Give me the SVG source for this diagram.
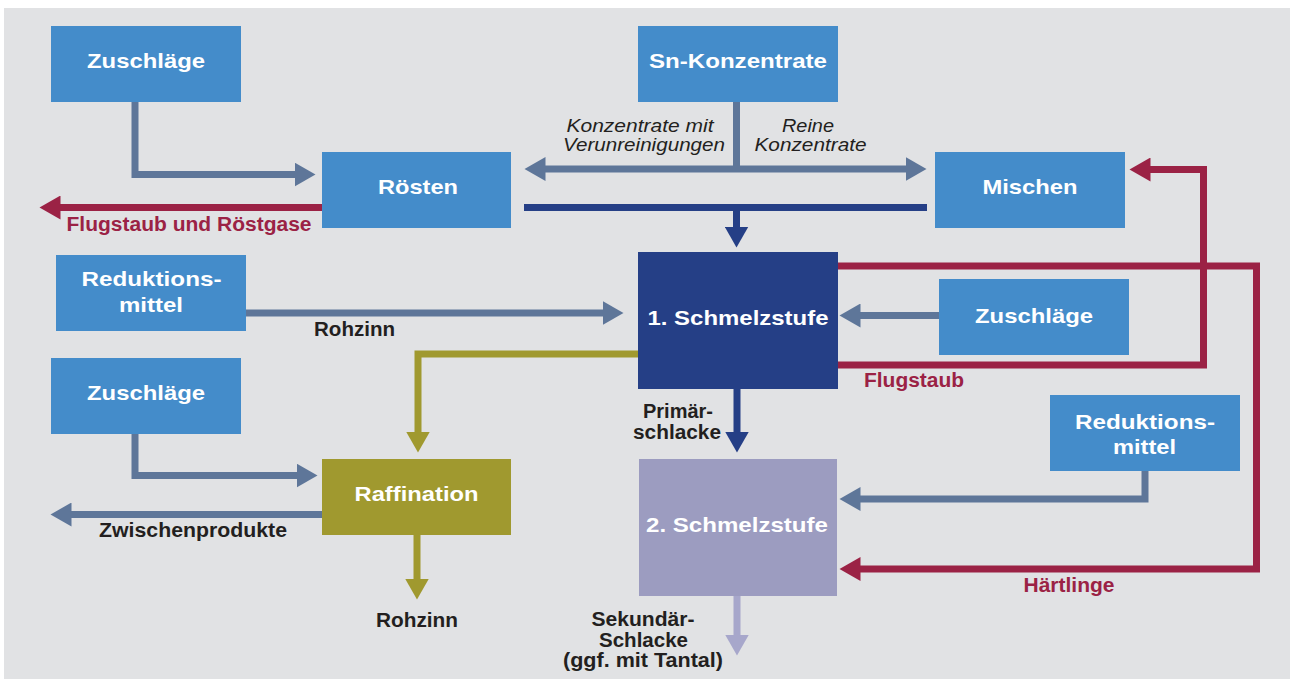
<svg xmlns="http://www.w3.org/2000/svg" width="1290" height="679" viewBox="0 0 1290 679">
<style>
.box{fill:#448CCA}
.lbl{font-family:"Liberation Sans",Arial,sans-serif;font-weight:bold;font-size:21px;fill:#FFFFFF;text-anchor:middle}
.dk{font-family:"Liberation Sans",Arial,sans-serif;font-weight:bold;font-size:20px;fill:#231F20;text-anchor:middle}
.rd{font-family:"Liberation Sans",Arial,sans-serif;font-weight:bold;font-size:20px;fill:#9B2245;text-anchor:middle}
.it{font-family:"Liberation Sans",Arial,sans-serif;font-style:italic;font-size:18.5px;fill:#231F20}
.c{fill:none;stroke-width:7;stroke-linejoin:miter;stroke-linecap:butt}
.gb{stroke:#5E7699}
.nv{stroke:#253F86}
.ol{stroke:#A0992F}
.rr{stroke:#9B2245}
.lv{stroke:#A7A7CB}
</style>
<defs>
<marker id="hg" markerUnits="userSpaceOnUse" markerWidth="22" markerHeight="24" viewBox="0 0 22 24" refX="0.5" refY="12" orient="auto-start-reverse"><path d="M0,0 L21,12 L0,24 z" fill="#5E7699"/></marker>
<marker id="hn" markerUnits="userSpaceOnUse" markerWidth="22" markerHeight="24" viewBox="0 0 22 24" refX="0.5" refY="12" orient="auto"><path d="M0,0 L21,12 L0,24 z" fill="#253F86"/></marker>
<marker id="ho" markerUnits="userSpaceOnUse" markerWidth="22" markerHeight="24" viewBox="0 0 22 24" refX="0.5" refY="12" orient="auto"><path d="M0,0 L21,12 L0,24 z" fill="#A0992F"/></marker>
<marker id="hr" markerUnits="userSpaceOnUse" markerWidth="22" markerHeight="24" viewBox="0 0 22 24" refX="0.5" refY="12" orient="auto"><path d="M0,0 L21,12 L0,24 z" fill="#9B2245"/></marker>
<marker id="hl" markerUnits="userSpaceOnUse" markerWidth="22" markerHeight="24" viewBox="0 0 22 24" refX="0.5" refY="12" orient="auto"><path d="M0,0 L21,12 L0,24 z" fill="#A7A7CB"/></marker>
</defs>
<rect x="0" y="0" width="1290" height="679" fill="#FFFFFF"/>
<rect x="4" y="8" width="1286" height="671" fill="#E1E2E4"/>

<g id="connectors">
<path class="c gb" d="M135,101 V174.5 H295" marker-end="url(#hg)"/>
<path class="c gb" d="M736.5,101 V169"/>
<path class="c gb" d="M545,169 H906" marker-start="url(#hg)" marker-end="url(#hg)"/>
<path class="c gb" d="M245,313 H603" marker-end="url(#hg)"/>
<path class="c gb" d="M939,315.5 H860" marker-end="url(#hg)"/>
<path class="c gb" d="M135,433 V475.5 H297" marker-end="url(#hg)"/>
<path class="c gb" d="M322,514.5 H71" marker-end="url(#hg)"/>
<path class="c gb" d="M1145,470 V499 H860" marker-end="url(#hg)"/>
<path class="c nv" d="M524,207.5 H927" stroke-width="8"/>
<path class="c nv" d="M736.5,211 V227" marker-end="url(#hn)"/>
<path class="c nv" d="M737,388 V432" marker-end="url(#hn)"/>
<path class="c ol" d="M638,354 H418 V432" marker-end="url(#ho)"/>
<path class="c ol" d="M417,534 V579" marker-end="url(#ho)"/>
<path class="c rr" d="M322,207.5 H60" marker-end="url(#hr)"/>
<path class="c rr" d="M838,365 H1203.5 V169.5 H1150" marker-end="url(#hr)"/>
<path class="c rr" d="M838,266 H1256.5 V569 H860" marker-end="url(#hr)"/>
<path class="c lv" d="M737,595 V635" marker-end="url(#hl)"/>
</g>

<g id="zuschlaege1"><rect class="box" x="51" y="26" width="190" height="76"/><text class="lbl" x="146" y="68" textLength="118" lengthAdjust="spacingAndGlyphs">Zuschläge</text></g>
<g id="sn-konzentrate"><rect class="box" x="638" y="26" width="200" height="76"/><text class="lbl" x="738" y="68" textLength="178" lengthAdjust="spacingAndGlyphs">Sn-Konzentrate</text></g>
<g id="roesten"><rect class="box" x="322" y="152" width="189" height="76"/><text class="lbl" x="418" y="194" textLength="80" lengthAdjust="spacingAndGlyphs">Rösten</text></g>
<g id="mischen"><rect class="box" x="935" y="152" width="190" height="76"/><text class="lbl" x="1030" y="194" textLength="95" lengthAdjust="spacingAndGlyphs">Mischen</text></g>
<g id="reduktionsmittel1"><rect class="box" x="56" y="255" width="190" height="76"/><text class="lbl" x="151.5" y="285.5" textLength="140" lengthAdjust="spacingAndGlyphs">Reduktions-</text><text class="lbl" x="151" y="311.5" textLength="64" lengthAdjust="spacingAndGlyphs">mittel</text></g>
<g id="schmelzstufe1"><rect x="638" y="252" width="200" height="137" fill="#253F86"/><text class="lbl" x="738" y="325" textLength="181" lengthAdjust="spacingAndGlyphs">1. Schmelzstufe</text></g>
<g id="zuschlaege2"><rect class="box" x="939" y="279" width="190" height="76"/><text class="lbl" x="1034" y="323" textLength="118" lengthAdjust="spacingAndGlyphs">Zuschläge</text></g>
<g id="zuschlaege3"><rect class="box" x="51" y="358" width="190" height="76"/><text class="lbl" x="146" y="400" textLength="118" lengthAdjust="spacingAndGlyphs">Zuschläge</text></g>
<g id="reduktionsmittel2"><rect class="box" x="1050" y="395" width="190" height="76"/><text class="lbl" x="1145" y="428.5" textLength="140" lengthAdjust="spacingAndGlyphs">Reduktions-</text><text class="lbl" x="1144.5" y="454" textLength="63" lengthAdjust="spacingAndGlyphs">mittel</text></g>
<g id="raffination"><rect x="322" y="459" width="189" height="76" fill="#A0992F"/><text class="lbl" x="416.5" y="500.5" textLength="124" lengthAdjust="spacingAndGlyphs">Raffination</text></g>
<g id="schmelzstufe2"><rect x="639" y="459" width="198" height="137" fill="#9C9CC0"/><text class="lbl" x="737" y="531.5" textLength="182" lengthAdjust="spacingAndGlyphs">2. Schmelzstufe</text></g>

<g id="labels">
<text class="it" x="566.5" y="132" textLength="147" lengthAdjust="spacingAndGlyphs">Konzentrate mit</text>
<text class="it" x="563" y="151" textLength="162" lengthAdjust="spacingAndGlyphs">Verunreinigungen</text>
<text class="it" x="808" y="132" text-anchor="middle" textLength="52" lengthAdjust="spacingAndGlyphs">Reine</text>
<text class="it" x="810.5" y="151" text-anchor="middle" textLength="112" lengthAdjust="spacingAndGlyphs">Konzentrate</text>
<text class="rd" x="189" y="231" textLength="245" lengthAdjust="spacingAndGlyphs">Flugstaub und Röstgase</text>
<text class="dk" x="354.5" y="336" textLength="81" lengthAdjust="spacingAndGlyphs">Rohzinn</text>
<text class="rd" x="914" y="386.7" textLength="100" lengthAdjust="spacingAndGlyphs">Flugstaub</text>
<text class="dk" x="678" y="418" textLength="70" lengthAdjust="spacingAndGlyphs">Primär-</text>
<text class="dk" x="677" y="438.5" textLength="88" lengthAdjust="spacingAndGlyphs">schlacke</text>
<text class="dk" x="193" y="536.7" textLength="188" lengthAdjust="spacingAndGlyphs">Zwischenprodukte</text>
<text class="rd" x="1069" y="591.7" textLength="91" lengthAdjust="spacingAndGlyphs">Härtlinge</text>
<text class="dk" x="417" y="626.7" textLength="82" lengthAdjust="spacingAndGlyphs">Rohzinn</text>
<text class="dk" x="643" y="626" textLength="103" lengthAdjust="spacingAndGlyphs">Sekundär-</text>
<text class="dk" x="643.5" y="646.5" textLength="89" lengthAdjust="spacingAndGlyphs">Schlacke</text>
<text class="dk" x="643" y="666.7" textLength="160" lengthAdjust="spacingAndGlyphs">(ggf. mit Tantal)</text>
</g>
</svg>
